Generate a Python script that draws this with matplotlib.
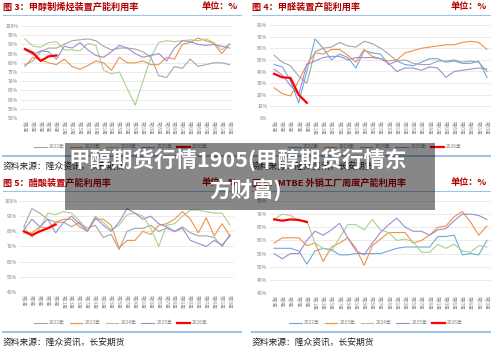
import matplotlib
matplotlib.use("Agg")
import matplotlib.pyplot as plt
from matplotlib.patches import Rectangle
from matplotlib.lines import Line2D

plt.rcParams['font.family'] = ['Noto Sans CJK SC', 'DejaVu Sans']

W, H = 500, 354

# ---- data (every 2nd week, 27 points) ----
weeks = [f"第{2*i+1}周" for i in range(27)]
years = ["2022年", "2023年", "2024年", "2025年", "2026年"]

# 图3 甲醇制烯烃
mto_2022 = [79, 81, 86, 88, 88, 90, 92, 92.5, 93, 92, 89, 87, 88, 88, 87.5, 86, 83, 73, 72, 78, 77, 82, 78, 79, 80, 80, 79]
mto_2023 = [78, 83, 81.5, 80, 79, 82, 78, 76.5, 78.5, 81, 80, 76, 83, 80, 80, 81, 79, 79, 83, 82, 90, 91, 93.5, 92, 90.5, 85, 90]
mto_2024 = [93, 89, 88.5, 91, 91.5, 87, 87, 86.5, 90.5, 89.5, 76, 74, 75, 66, 57, 70, 83, 91, 92, 91.5, 92, 92.5, 92, 93, 91, 87, 90.5]
mto_2025 = [87, 84.5, 86.5, 86, 82, 89, 88, 91, 87, 84, 83, 86, 89.5, 88, 85, 83, 84, 85, 81, 88, 92, 91.5, 90, 89.5, 90, 89, 88]
mto_2026 = [87.5, 85.5, 81, 83.5, 84]

# 图4 甲醛
hcho_2022 = [46, 44, 32, 13, 40, 68, 60, 50, 55, 52, 43, 58, 56, 55, 46, 49, 46, 45, 48, 51, 51, 48, 49, 47, 47, 49, 35]
hcho_2023 = [26, 21, 19, 32, 46, 56, 55, 59, 59, 54, 48, 59, 53, 51, 49, 50, 56, 58, 60, 61, 62, 63, 63, 65, 66, 65, 59]
hcho_2024 = [54, 48, 45, 36, 30, 57, 60, 61, 65, 62, 61, 66, 64, 60, 55, 49, 50, 47, 46, 46, 49, 49, 50, 48, 49, 48, 40]
hcho_2025 = [42, 37, 28, 20, 46, 49, 52, 53, 53, 50, 52, 52, 52, 51, 47, 40, 43, 43, 41, 44, 43, 35, 40, 41, 42, 43, 42]
hcho_2026 = [38, 35, 34.5, 20, 13]

# 图5 醋酸
acid_2022 = [83, 95, 92, 88, 86, 86, 83, 86, 82, 84, 76, 78, 68, 80, 82, 82, 84, 80, 82, 80, 83, 79, 77, 77, 76, 70, 78]
acid_2023 = [79, 79, 83, 82, 86, 88, 88, 83, 80, 88, 88, 84, 69, 74, 74, 80, 78, 84, 85, 88, 93, 88, 79, 89, 77, 85, 77]
acid_2024 = [83, 76, 82, 92, 91, 93, 92, 87, 80, 90, 86, 81, 84, 91, 92, 90, 82, 70, 84, 85, 90, 94, 94, 93, 92, 92, 84]
acid_2025 = [81, 88, 83, 88, 79, 86, 90, 85, 80, 89, 84, 80, 86, 95, 92, 88, 90, 85, 83, 80, 82, 74, 72, 70, 74, 71, 77]
acid_2026 = [80, 77.5, 80, 82, 84.5]

# 图6 MTBE
mtbe_2022 = [57, 57, 57, 56, 51, 56, 57, 56.5, 54.5, 54.5, 55, 55, 55, 55, 56, 57, 57.5, 57.5, 57.5, 57.5, 61.5, 61.5, 62, 54.5, 55, 54.5, 60]
mtbe_2023 = [59, 61, 61, 61, 58, 59, 52, 57.5, 59, 61, 57, 50.5, 58, 60.5, 63, 63, 63, 59, 60, 62, 65, 65.5, 69, 71, 67, 62, 65.5]
mtbe_2024 = [68, 70, 69.5, 67.5, 67.5, 59, 57, 56, 61, 66, 66, 64, 68, 64, 63, 60, 60.5, 59.5, 55.5, 55.5, 58.5, 57, 58.5, 56, 55.5, 58, 57.5]
mtbe_2025 = [55, 53, 55, 55, 60, 63.5, 62, 64, 66.5, 61, 56, 54.5, 59, 63, 66, 68.5, 65, 63.5, 63.5, 62, 64, 64.5, 67.5, 70, 70, 69.5, 68]
mtbe_2026 = [68, 67.5, 68, 67.8, 67]

GRAY, ORANGE, GREEN, PURPLE, RED, BLUE = "#a5a5a5", "#f0914a", "#a9d18e", "#a08cd0", "#ff0000", "#6fa8dc"
TITLE_RED = "#b00000"
LINE_BLUE = "#9dc3e6"

fig = plt.figure(figsize=(5.0, 3.54), dpi=100)


def px_rect(x0, y0, x1, y1):
    return [x0 / W, 1 - y1 / H, (x1 - x0) / W, (y1 - y0) / H]


def panel(rect, series, colors, yticks, legend_xy):
    ax = fig.add_axes(px_rect(*rect))
    for (vals, c, lab) in zip(series, colors, years):
        lw = 1.6 if c == RED else 0.8
        ax.plot(range(len(vals)), vals, color=c, lw=lw, label=lab, zorder=3 if c == RED else 2)
    ax.set_xlim(-0.5, 26.5)
    ax.set_ylim(yticks[0], yticks[-1])
    ax.set_yticks(yticks)
    ax.set_yticklabels([f"{v}%" for v in yticks], fontsize=3.6, color="#7f7f7f")
    ax.set_xticks(range(27))
    ax.set_xticklabels(weeks, rotation=-90, fontsize=3.2, color="#8c8c8c")
    ax.tick_params(length=0, pad=2)
    ax.grid(axis="y", color="#e3e3e3", lw=0.5)
    for s in ax.spines.values():
        s.set_visible(False)
    handles = [Line2D([], [], color=c, lw=1.6 if c == RED else 0.8) for c in colors]
    ax.legend(handles, years, loc="center", ncol=5, frameon=False, fontsize=3.5,
              handlelength=2.6, columnspacing=1.0, handletextpad=0.5, labelcolor="#7f7f7f",
              bbox_to_anchor=(legend_xy[0] / W, 1 - legend_xy[1] / H), bbox_transform=fig.transFigure)
    return ax


panel((21, 26, 233.5, 118), [mto_2022, mto_2023, mto_2024, mto_2025, mto_2026],
      [GRAY, ORANGE, GREEN, PURPLE, RED], list(range(50, 101, 5)), (121, 147))
panel((270, 25, 491, 118), [hcho_2022, hcho_2023, hcho_2024, hcho_2025, hcho_2026],
      [BLUE, ORANGE, GRAY, PURPLE, RED], list(range(0, 81, 10)), (375, 147))
panel((20, 201, 234, 292), [acid_2022, acid_2023, acid_2024, acid_2025, acid_2026],
      [GRAY, ORANGE, GREEN, PURPLE, RED], list(range(40, 101, 10)), (121, 323))
panel((270, 201, 491, 293), [mtbe_2022, mtbe_2023, mtbe_2024, mtbe_2025, mtbe_2026],
      [BLUE, ORANGE, GREEN, PURPLE, RED], list(range(40, 76, 5)), (376, 323))

# titles, rules and source notes
titles = [("图 3：甲醇制烯烃装置产能利用率", 3, 7), ("图 4：甲醛装置产能利用率", 252, 7),
          ("图 5：醋酸装置产能利用率", 3, 183), ("图 6：MTBE 外销工厂周度产能利用率", 252, 183)]
for t, x, y in titles:
    fig.text(x / W, 1 - y / H, t, fontsize=6.6, color=TITLE_RED, fontweight="bold", va="center", ha="left")
    fig.text((x + 235) / W, 1 - y / H, "单位：%", fontsize=6.6, color=TITLE_RED, fontweight="bold",
             va="center", ha="right")
    fig.add_artist(Line2D([(x) / W, (x + 238) / W], [1 - (y + 8) / H] * 2, color=LINE_BLUE, lw=0.8))
    fig.add_artist(Line2D([(x) / W, (x + 238) / W], [1 - (y + 149) / H] * 2, color=LINE_BLUE, lw=1.5))
    fig.text(x / W, 1 - (y + 159) / H, "资料来源：隆众资讯，长安期货", fontsize=6.3, color="#222222",
             va="center", ha="left")

# gray banner overlay
fig.add_artist(Rectangle((65 / W, 1 - 210 / H), 370 / W, 67 / H, transform=fig.transFigure,
                         facecolor="black", alpha=0.47, edgecolor="none", zorder=10))
fig.text(238 / W, 1 - 160 / H, "甲醇期货行情1905(甲醇期货行情东", fontsize=15.5, color="white",
         fontweight="bold", ha="center", va="center", zorder=11)
fig.text(246 / W, 1 - 190 / H, "方财富)", fontsize=15.5, color="white",
         fontweight="bold", ha="center", va="center", zorder=11)

fig.savefig("out.png", dpi=100)
